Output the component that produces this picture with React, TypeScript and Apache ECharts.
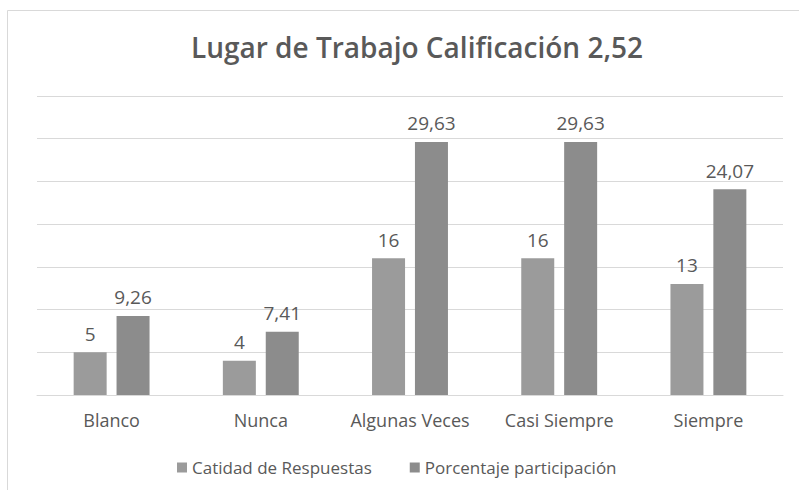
import React, { useEffect, useRef } from "react";
import * as echarts from "echarts";

const categories = ["Blanco", "Nunca", "Algunas Veces", "Casi Siempre", "Siempre"];
const cantidad = [5, 4, 16, 16, 13];
const porcentaje = [9.26, 7.41, 29.63, 29.63, 24.07];
const seriesNames = ["Catidad de Respuestas", "Porcentaje participación"];
const titleText = "Lugar de Trabajo Calificación 2,52";

const fmt = (v: number) => String(v).replace(".", ",");
const FONT = "'Open Sans', sans-serif";

export default function App() {
  const ref = useRef<HTMLDivElement>(null);
  useEffect(() => {
    const chart = echarts.init(ref.current!, null, { renderer: "svg" });
    const labelStyle = {
      show: true,
      position: "top",
      distance: 9,
      fontFamily: FONT,
      fontSize: 19,
      color: "#595959",
      formatter: (p: any) => fmt(p.value),
    };
    chart.setOption({
      animation: false,
      backgroundColor: "#ffffff",
      title: {
        text: titleText,
        left: 412,
        textAlign: "center",
        top: 28,
        textStyle: { fontFamily: FONT, fontSize: 28, fontWeight: 600, color: "#595959" },
      },
      graphic: [
        {
          type: "rect",
          shape: { x: 7.5, y: 10.5, width: 800, height: 490 },
          style: { fill: "none", stroke: "#d9d9d9", lineWidth: 1 },
          silent: true,
        },
      ],
      legend: {
        top: 454,
        left: 172,
        orient: "horizontal",
        itemWidth: 10,
        itemHeight: 10,
        itemGap: 38,
        icon: "rect",
        textStyle: { fontFamily: FONT, fontSize: 17, color: "#595959" },
        data: seriesNames,
      },
      grid: { left: 37, right: 16, top: 96, bottom: 95, containLabel: false },
      xAxis: {
        type: "category",
        data: categories,
        axisLine: { lineStyle: { color: "#d9d9d9", width: 1 } },
        axisTick: { show: false },
        axisLabel: { interval: 0, fontFamily: FONT, fontSize: 18, color: "#595959", margin: 16 },
      },
      yAxis: {
        type: "value",
        min: 0,
        max: 35,
        interval: 5,
        axisLabel: { show: false },
        axisLine: { show: false },
        axisTick: { show: false },
        splitLine: { lineStyle: { color: "#d9d9d9", width: 1 } },
      },
      series: [
        {
          name: seriesNames[0],
          type: "bar",
          data: cantidad,
          barWidth: 33,
          barGap: "30%",
          itemStyle: { color: "#9b9b9b" },
          label: labelStyle,
        },
        {
          name: seriesNames[1],
          type: "bar",
          data: porcentaje,
          barWidth: 33,
          itemStyle: { color: "#8c8c8c" },
          label: labelStyle,
        },
      ],
    });
    return () => chart.dispose();
  }, []);
  return <div ref={ref} style={{ width: 799, height: 490, position: "absolute", left: 0, top: 0 }} />;
}
